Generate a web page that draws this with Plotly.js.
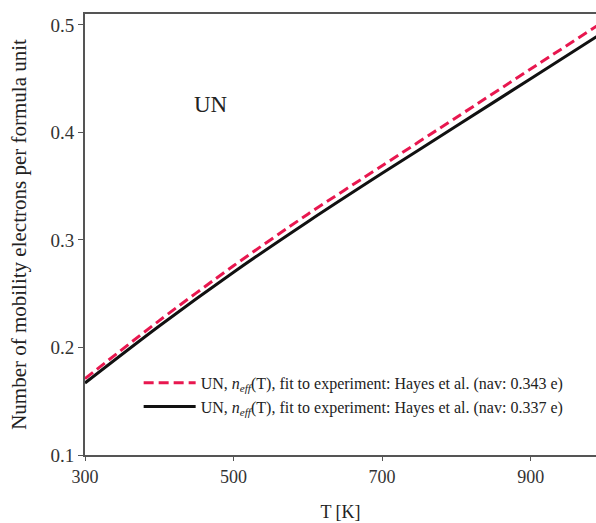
<!DOCTYPE html>
<html>
<head>
<meta charset="utf-8">
<script src="https://cdn.plot.ly/plotly-3.0.1.min.js"></script>
<style>html,body{margin:0;padding:0;background:#fff;}#chart{width:596px;height:523px;}</style>
</head>
<body>
<div id="chart"></div>
<script>
const temperature = [300, 400, 500, 600, 700, 800, 900, 1000];
const nEffRed = [0.171, 0.225, 0.276, 0.324, 0.369, 0.414, 0.459, 0.504];
const nEffBlack = [0.167, 0.220, 0.270, 0.317, 0.362, 0.406, 0.450, 0.494];
const nameRed = 'UN, <i>n</i><sub><i>eff</i></sub>(T), fit to experiment: Hayes et al. (nav: 0.343 e)';
const nameBlack = 'UN, <i>n</i><sub><i>eff</i></sub>(T), fit to experiment: Hayes et al. (nav: 0.337 e)';
const xTicks = [300, 500, 700, 900];
const yTicks = [0.1, 0.2, 0.3, 0.4, 0.5];

const serif = 'Liberation Serif, Times New Roman, serif';
const traces = [
  {x: temperature, y: nEffRed, name: nameRed, mode: 'lines', line: {color: '#e8174f', width: 3, dash: '10px,5px', shape: 'spline', smoothing: 0.8}},
  {x: temperature, y: nEffBlack, name: nameBlack, mode: 'lines', line: {color: '#111111', width: 3, shape: 'spline', smoothing: 0.8}}
];
const layout = {
  width: 596, height: 523,
  margin: {l: 85, r: 0, t: 14, b: 68},
  paper_bgcolor: '#fff', plot_bgcolor: '#fff',
  font: {family: serif, color: '#222'},
  showlegend: true,
  legend: {x: 0.105, y: 0.202, xanchor: 'left', yanchor: 'top', bgcolor: 'rgba(0,0,0,0)', font: {family: serif, size: 16, color: '#222'}, tracegroupgap: 0, itemwidth: 52},
  xaxis: {
    range: [300, 988], tickvals: xTicks, ticktext: xTicks.map(String),
    showgrid: false, zeroline: false, showline: true, linecolor: '#555', linewidth: 2, mirror: true,
    ticks: 'outside', ticklen: 4, tickcolor: '#555', tickfont: {family: serif, size: 18, color: '#333'},
    title: {text: 'T [K]', font: {family: serif, size: 18, color: '#222'}, standoff: 20}
  },
  yaxis: {
    range: [0.1, 0.5102], tickvals: yTicks, ticktext: yTicks.map(v => v.toFixed(1)),
    showgrid: false, zeroline: false, showline: true, linecolor: '#555', linewidth: 2,
    ticks: 'outside', ticklen: 5, tickcolor: '#555', tickfont: {family: serif, size: 19, color: '#333'},
    title: {text: 'Number of mobility electrons per formula unit', font: {family: serif, size: 21, color: '#222'}, standoff: 18}
  },
  annotations: [{x: 470, y: 0.426, xref: 'x', yref: 'y', text: 'UN', showarrow: false, font: {family: serif, size: 23, color: '#222'}}]
};
Plotly.newPlot('chart', traces, layout, {displayModeBar: false, staticPlot: true});
</script>
</body>
</html>
